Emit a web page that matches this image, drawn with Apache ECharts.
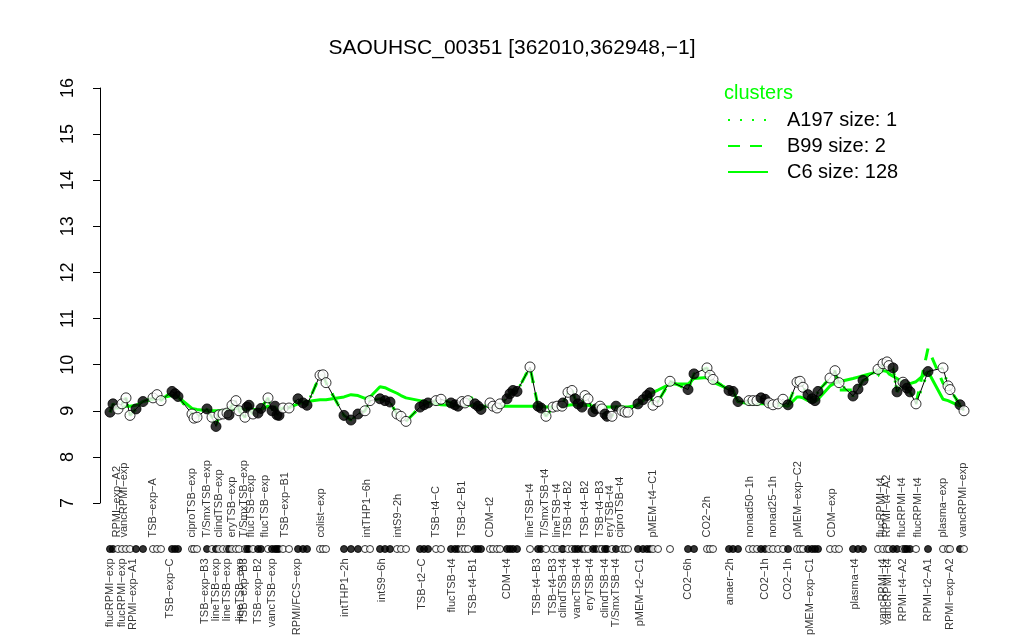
<!DOCTYPE html>
<html><head><meta charset="utf-8">
<script src="https://cdn.jsdelivr.net/npm/echarts@6/dist/echarts.min.js"></script>
<style>html,body{margin:0;padding:0;background:#fff}#c{width:1024px;height:640px}</style>
</head><body><div id="c"></div>
<script>
// sample positions along the condition axis
const samplePos = [10,13,18,22,26,30,36,43,53,57,
61,72,75,78,92,94,97,107,112,116,
119,123,127,129,132,136,139,145,147,149,
153,158,161,168,172,175,177,179,183,189,
198,203,207,220,223,226,244,251,258,265,
270,280,285,290,297,301,306,320,324,328,
336,341,351,355,358,362,365,368,375,378,
381,390,393,397,400,407,410,413,417,430,
438,441,446,453,457,462,463,468,472,475,
478,482,485,488,493,496,500,502,505,507,
512,516,522,525,528,538,543,547,550,553,
558,570,588,594,607,610,613,629,633,638,
649,653,657,661,665,669,673,678,683,688,
697,700,703,708,712,715,718,730,735,739,
753,758,763,778,783,787,789,793,797,803,
805,807,810,816,828,843,848,850,860,864];
// gene expression (log2)
const expr = [8.97,9.15,9.04,9.15,9.28,8.90,9.04,9.20,9.28,9.35,
9.22,9.42,9.37,9.31,8.93,8.84,8.86,9.04,8.86,8.66,
8.91,8.93,8.95,8.91,9.12,9.22,9.00,8.86,9.08,9.12,
8.93,8.95,9.05,9.28,9.00,9.10,8.91,8.90,9.06,9.06,
9.26,9.17,9.12,9.77,9.78,9.61,8.90,8.80,8.93,9.00,
9.22,9.26,9.22,9.19,8.93,8.88,8.77,9.08,9.13,9.17,
9.22,9.25,9.17,9.13,9.10,9.20,9.17,9.22,9.15,9.10,
9.03,9.17,9.10,9.06,9.15,9.26,9.37,9.44,9.42,9.95,
9.10,9.06,8.88,9.08,9.10,9.10,9.17,9.40,9.44,9.26,
9.15,9.08,9.33,9.26,8.98,9.04,9.10,9.04,8.93,8.88,
8.88,9.10,9.00,8.97,8.97,9.15,9.24,9.33,9.39,9.12,
9.20,9.64,9.46,9.80,9.93,9.77,9.68,9.44,9.42,9.20,
9.22,9.22,9.22,9.28,9.25,9.17,9.13,9.15,9.25,9.13,
9.62,9.64,9.51,9.35,9.26,9.22,9.42,9.71,9.87,9.61,
9.32,9.47,9.66,9.90,10.02,10.06,9.98,9.93,9.41,9.62,
9.57,9.49,9.41,9.15,9.85,9.93,9.54,9.46,9.13,9.00];
// 1 = filled marker, 0 = open marker
const filled = [1,1,0,0,0,0,1,1,0,0,
0,1,1,1,0,0,0,1,0,1,
0,0,0,1,0,0,0,0,1,1,
0,1,1,0,1,1,1,1,0,0,
1,1,1,0,0,0,1,1,1,0,
0,1,1,1,0,0,0,1,1,1,
0,0,1,1,1,0,0,0,1,1,
1,0,0,0,0,1,1,1,1,0,
1,1,0,0,0,0,1,0,0,1,
1,1,0,0,1,1,0,0,1,1,
0,1,0,0,0,1,1,1,1,0,
0,0,1,1,0,0,0,1,1,1,
0,0,0,1,1,0,0,0,0,1,
0,0,0,1,1,1,1,0,0,0,
1,1,1,0,0,0,0,1,1,0,
1,1,1,0,1,0,0,0,1,0];
// cluster C6 mean profile
const c6 = [9.05,9.05,9.06,9.08,9.10,9.10,9.12,9.20,9.25,9.27,
9.28,9.33,9.32,9.30,9.05,9.03,9.03,9.00,9.00,9.00,
9.00,9.00,9.02,9.02,9.03,9.05,9.05,9.03,9.05,9.05,
9.03,9.03,9.03,9.10,9.05,9.05,9.03,9.03,9.05,9.07,
9.15,9.18,9.20,9.24,9.24,9.24,9.30,9.35,9.33,9.27,
9.30,9.52,9.50,9.45,9.38,9.33,9.28,9.22,9.20,9.18,
9.15,9.13,9.12,9.12,9.12,9.12,9.12,9.12,9.12,9.12,
9.10,9.10,9.10,9.10,9.10,9.10,9.10,9.10,9.10,9.10,
9.10,9.10,9.08,9.08,9.08,9.10,9.10,9.12,9.13,9.13,
9.12,9.12,9.12,9.12,9.10,9.10,9.10,9.10,9.08,9.08,
9.08,9.08,9.08,9.08,9.08,9.12,9.22,9.30,9.37,9.40,
9.45,9.58,9.58,9.70,9.72,9.68,9.62,9.47,9.45,9.20,
9.15,9.15,9.15,9.15,9.15,9.13,9.12,9.12,9.12,9.10,
9.30,9.30,9.28,9.22,9.20,9.20,9.25,9.54,9.60,9.63,
9.70,9.73,9.76,9.85,9.87,9.85,9.80,9.75,9.70,9.62,
9.60,9.60,9.59,9.63,9.85,9.25,9.22,9.22,9.10,9.05];
// cluster B99 mean profile
const b99 = [8.97,9.15,9.04,9.15,9.28,8.90,9.04,9.20,9.28,9.35,
9.22,9.42,9.37,9.31,8.93,8.84,8.86,9.04,8.86,8.66,
8.91,8.93,8.95,8.91,9.12,9.22,9.00,8.86,9.08,9.12,
8.93,8.95,9.05,9.28,9.00,9.10,8.91,8.90,9.06,9.06,
9.26,9.17,9.12,9.77,9.78,9.61,8.90,8.80,8.93,9.00,
9.22,9.26,9.22,9.19,8.93,8.88,8.77,9.08,9.13,9.17,
9.22,9.25,9.17,9.13,9.10,9.20,9.17,9.22,9.33,9.10,
9.03,9.17,9.10,9.06,9.15,9.26,9.37,9.44,9.42,9.95,
9.10,9.06,8.88,9.08,9.10,9.10,9.17,9.40,9.44,9.26,
9.15,9.08,9.33,9.26,8.98,9.04,9.10,9.04,8.93,8.88,
8.88,9.10,9.00,8.97,8.97,9.15,9.24,9.33,9.39,9.12,
9.20,9.64,9.46,9.80,9.93,9.77,9.68,9.44,9.42,9.20,
9.22,9.22,9.22,9.28,9.25,9.17,9.13,9.15,9.25,9.13,
9.62,9.64,9.51,9.35,9.26,9.22,9.42,9.71,9.87,9.45,
9.45,9.47,9.66,9.76,10.02,10.06,9.98,9.93,9.41,9.62,
9.57,9.49,9.41,9.15,10.35,9.60,9.54,9.46,9.13,9.00];
// condition labels above the marker row
const topLabelPos = [17,24,53,92,107,119,132,144,151,165,185,221,267,298,336,362,390,430,445,457,468,485,500,510,520,553,607,650,673,698,732,781,787,802,818,843,863];
const topLabelText = ['RPMI−exp−A2','vancRPMI−exp','TSB−exp−A','ciproTSB−exp','T/SmxTSB−exp','clindTSB−exp','eryTSB−exp','T/SmxTSB−exp','flucTSB−exp','flucTSB−exp','TSB−exp−B1','colist−exp','intTHP1−6h','intS9−2h','TSB−t4−C','TSB−t2−B1','CDM−t2','lineTSB−t4','T/SmxTSB−t4','lineTSB−t4','TSB−t4−B2','TSB−t4−B2','TSB−t4−B3','eryTSB−t4','ciproTSB−t4','pMEM−t4−C1','CO2−2h','nonad50−1h','nonad25−1h','pMEM−exp−C2','CDM−exp','flucRPMI−t4','RPMI−t4−A2','flucRPMI−t4','flucRPMI−t4','plasma−exp','vancRPMI−exp'];
// condition labels below the marker row
const botLabelPos = [10,22,33,70,105,116,127,140,144,158,172,197,245,282,322,352,373,407,437,453,463,477,490,505,516,540,588,630,665,688,710,755,783,788,803,828,850];
const botLabelText = ['flucRPMI−exp','flucRPMI−exp','RPMI−exp−A1','TSB−exp−C','TSB−exp−B3','lineTSB−exp','lineTSB−exp','lineTSB−exp','TSB−exp−B3','TSB−exp−B2','vancTSB−exp','RPMI/FCS−exp','intTHP1−2h','intS9−6h','TSB−t2−C','flucTSB−t4','TSB−t4−B1','CDM−t4','TSB−t4−B3','TSB−t4−B3','clindTSB−t4','vancTSB−t4','eryTSB−t4','clindTSB−t4','T/SmxTSB−t4','pMEM−t2−C1','CO2−6h','anaer−2h','CO2−1h','CO2−1h','pMEM−exp−C1','plasma−t4','vancRPMI−t4','vancRPMI−t4','RPMI−t4−A2','RPMI−t2−A1','RPMI−exp−A2'];
const yTicks = [7,16,1];

const FONT = 'Liberation Sans, Arial, Helvetica, sans-serif';
const XMAX = 880;
const GREEN = '#00ff00';
const pair = (arr) => samplePos.map((p, i) => [p, arr[i]]);
const pts = samplePos.map((p, i) => ({value: [p, expr[i]], itemStyle: {color: filled[i] ? '#000' : '#fff'}}));
const rowPts = samplePos.map((p, i) => ({value: [p, 1], itemStyle: {color: filled[i] ? '#000' : '#fff'}}));

const chart = echarts.init(document.getElementById('c'), null, {renderer: 'canvas'});
chart.setOption({
  animation: false,
  backgroundColor: '#fff',
  title: [
    {text: 'SAOUHSC_00351 [362010,362948,−1]', left: 'center', top: 33,
     textStyle: {fontFamily: FONT, fontSize: 21, fontWeight: 'normal', color: '#000'}},
    {text: 'clusters', left: 719, top: 78,
     textStyle: {fontFamily: FONT, fontSize: 20, fontWeight: 'normal', color: GREEN}}
  ],
  legend: {
    data: ['A197 size: 1', 'B99 size: 2', 'C6 size: 128'],
    orient: 'vertical', left: 722, top: 105, itemWidth: 40, itemHeight: 20, itemGap: 6,
    selectedMode: false,
    itemStyle: {opacity: 0},
    textStyle: {fontFamily: FONT, fontSize: 20, color: '#000', padding: [0, 0, 0, 14]}
  },
  grid: [
    {left: 100, top: 88, width: XMAX, height: 415},
    {left: 100, top: 540, width: XMAX, height: 18}
  ],
  xAxis: [
    {type: 'value', gridIndex: 0, min: 0, max: XMAX, show: false},
    {type: 'value', gridIndex: 1, min: 0, max: XMAX, show: false}
  ],
  yAxis: [
    {type: 'value', gridIndex: 0, min: yTicks[0], max: yTicks[1], interval: yTicks[2], offset: 14,
     axisLine: {show: true, lineStyle: {color: '#000', width: 1}},
     axisTick: {show: true, length: 7, lineStyle: {color: '#000'}},
     axisLabel: {rotate: 90, fontSize: 18, color: '#000', margin: 9, fontFamily: FONT},
     splitLine: {show: false}},
    {type: 'value', gridIndex: 1, min: 0, max: 2, show: false}
  ],
  series: [
    {name: 'C6 size: 128', type: 'line', data: pair(c6), symbol: 'none', legendIcon: 'none', z: 2,
     lineStyle: {color: GREEN, width: 3, type: 'solid'}, itemStyle: {color: GREEN}},
    {name: 'B99 size: 2', type: 'line', data: pair(b99), symbol: 'none', legendIcon: 'none', z: 2,
     lineStyle: {color: GREEN, width: 3, type: [12, 10]}, itemStyle: {color: GREEN}},
    {name: 'A197 size: 1', type: 'line', data: pair(expr), symbol: 'none', legendIcon: 'none', z: 2,
     lineStyle: {color: GREEN, width: 3, type: [2, 10]}, itemStyle: {color: GREEN}},
    {type: 'line', data: pair(expr), symbol: 'none', z: 3, silent: true,
     lineStyle: {color: '#000', width: 1}},
    {type: 'scatter', data: pts, symbol: 'circle', symbolSize: 10, z: 4,
     itemStyle: {borderColor: '#000', borderWidth: 1}},
    {type: 'scatter', xAxisIndex: 1, yAxisIndex: 1, data: rowPts, symbol: 'circle', symbolSize: 7, z: 4,
     itemStyle: {borderColor: '#000', borderWidth: 1}},
    {type: 'scatter', xAxisIndex: 1, yAxisIndex: 1, silent: true, symbolSize: 1,
     data: topLabelPos.map(p => [p, 1]), itemStyle: {color: 'rgba(0,0,0,0)'},
     label: {show: true, position: [0, -11], rotate: 90, align: 'left', verticalAlign: 'middle',
       fontFamily: FONT, fontSize: 11, color: '#000',
       formatter: (p) => topLabelText[p.dataIndex]}},
    {type: 'scatter', xAxisIndex: 1, yAxisIndex: 1, silent: true, symbolSize: 1,
     data: botLabelPos.map(p => [p, 1]), itemStyle: {color: 'rgba(0,0,0,0)'},
     label: {show: true, position: [0, 10], rotate: 90, align: 'right', verticalAlign: 'middle',
       fontFamily: FONT, fontSize: 11, color: '#000',
       formatter: (p) => botLabelText[p.dataIndex]}}
  ]
});
</script></body></html>
